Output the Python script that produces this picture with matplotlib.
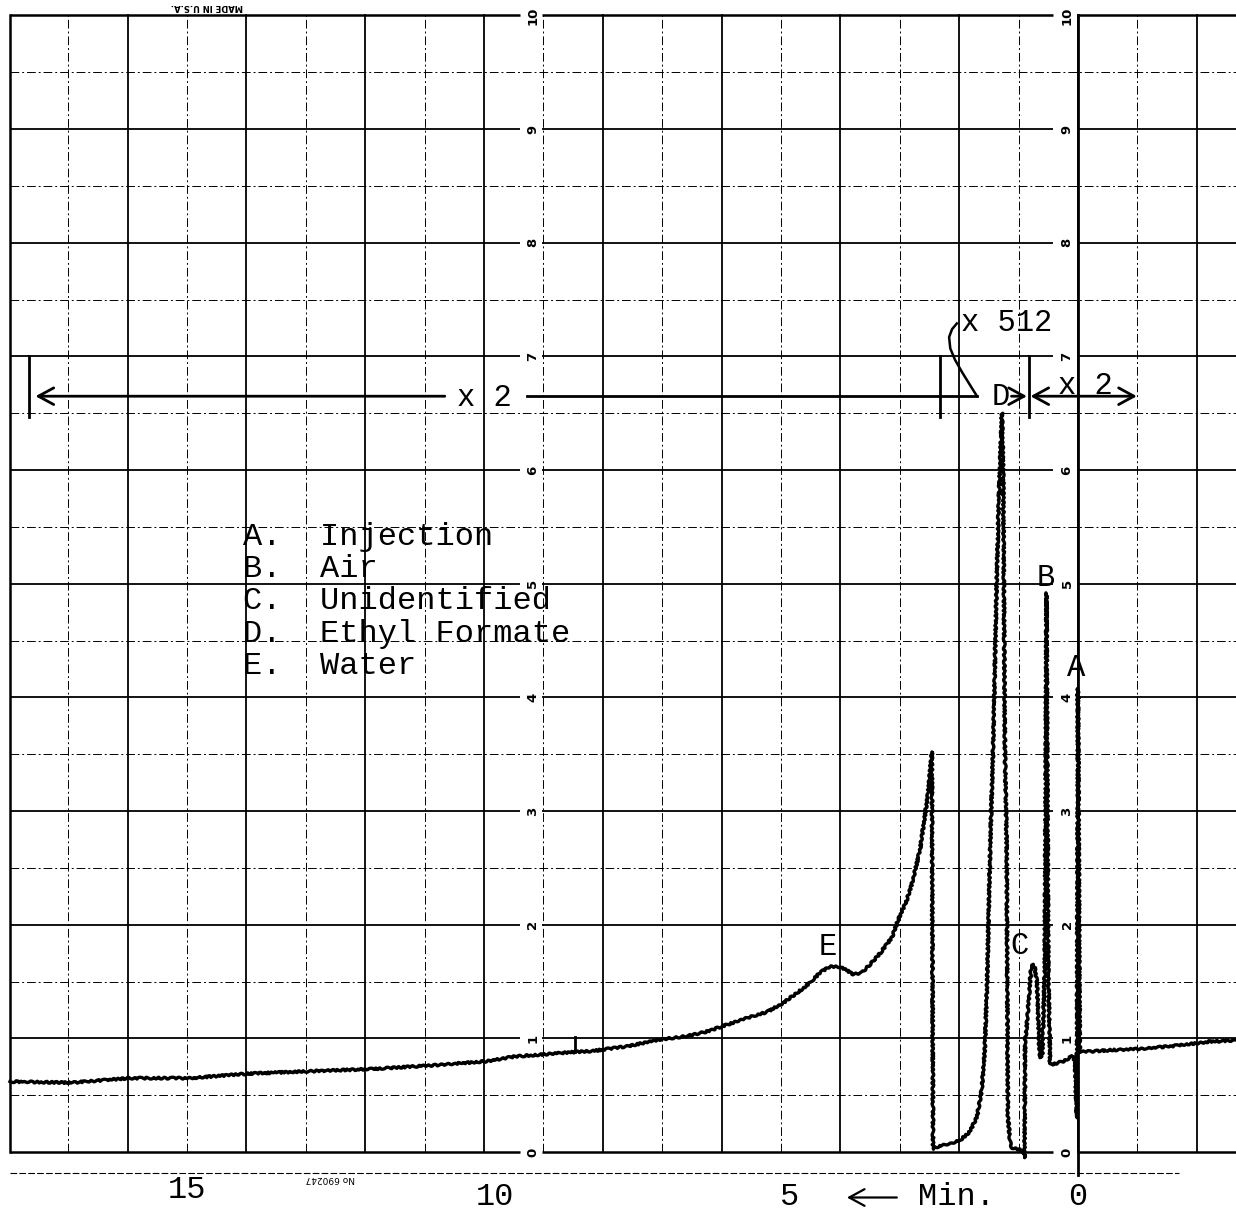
import numpy as np
import matplotlib
matplotlib.use("Agg")
from matplotlib import pyplot as plt

# recorder trace: time in min (increases to the left), pen response
t_after = [-2.66, -2.40, -2.20, -2.05, -1.80, -1.55, -1.35, -1.21, -0.95, -0.71, -0.50, -0.37, -0.20, -0.03]
v_after = [0.985, 0.975, 0.972, 0.96, 0.945, 0.93, 0.922, 0.915, 0.905, 0.90, 0.895, 0.89, 0.885, 0.88]

# A injection, B air, C unidentified
t_abc = [0.00, 0.02, 0.05, 0.10, 0.19, 0.30, 0.36, 0.47, 0.50, 0.53, 0.56, 0.60, 0.64,
         0.66, 0.69, 0.73, 0.76, 0.79, 0.81, 0.84, 0.88, 0.89]
v_abc = [4.08, 0.30, 0.80, 0.85, 0.81, 0.79, 0.78, 0.77, 1.60, 4.92, 1.60, 0.86, 0.83,
         1.01, 1.49, 1.62, 1.65, 1.60, 1.49, 1.25, 1.01, 1.00]

# D ethyl formate (x 512)
t_d = [0.90, 0.93, 0.98, 1.11, 1.14, 1.18, 1.20, 1.23, 1.26, 1.28, 1.33, 1.37, 1.43,
       1.48, 1.53, 1.57, 1.62, 1.70, 1.82, 1.99, 2.21, 2.41, 2.44]
v_d = [-0.05, 0.01, 0.02, 0.035, 0.08, 0.31, 2.66, 3.54, 6.03, 6.50, 5.80, 5.00, 3.54,
       2.66, 1.49, 0.90, 0.55, 0.31, 0.18, 0.10, 0.07, 0.04, 0.03]

# E water, back at x 2
t_e = [2.46, 2.53, 2.58, 2.66, 2.78, 2.88, 3.03, 3.13, 3.33, 3.50, 3.64, 3.79, 3.89, 4.01,
       4.18, 4.34, 4.51, 4.73, 4.97, 5.24, 5.57, 5.91, 6.25, 6.58, 7.04, 7.59, 8.16, 8.47, 8.72]
v_e = [3.52, 3.13, 2.95, 2.66, 2.39, 2.22, 2.04, 1.89, 1.75, 1.65, 1.58, 1.56, 1.60, 1.63,
       1.63, 1.58, 1.49, 1.40, 1.31, 1.23, 1.18, 1.12, 1.06, 1.02, 0.99, 0.93, 0.89, 0.88, 0.87]

t_before = [9.49, 9.93, 10.93, 11.92, 12.96, 13.96, 14.95, 15.96, 16.95, 17.98]
v_before = [0.84, 0.80, 0.76, 0.73, 0.71, 0.69, 0.65, 0.65, 0.61, 0.62]

event_t = 8.47
event_v = [0.88, 1.01]

legend_keys = ["A.", "B.", "C.", "D.", "E."]
legend_names = ["Injection", "Air", "Unidentified", "Ethyl Formate", "Water"]

peak_labels = ["A", "B", "C", "D", "E"]
peak_t = [0.03, 0.54, 0.98, 1.30, 4.21]
peak_v = [4.26, 5.05, 1.81, 6.64, 1.80]

time_labels = ["15", "10", "5", "0"]
time_ticks = [15.0, 9.81, 4.85, 0.0]
chart_numbers = [str(i) for i in range(11)]

TYPE = "Liberation Mono"
LEFT, RIGHT = 17.98, -2.66

fig = plt.figure(figsize=(12.36, 12.15), dpi=100)
ax = fig.add_axes([0, 0, 1, 1])
ax.set_xlim(18.148, -2.660)
ax.set_ylim(-0.554, 10.136)
ax.axis("off")

# chart paper grid
dash = (0, (9, 3, 2, 3))
for v in np.arange(0.5, 10, 1):
    ax.plot([LEFT, RIGHT], [v, v], color="k", lw=0.7, ls=dash)
seg_start = [LEFT, 9.02, 0.02]
seg_end = [9.39, 0.42, RIGHT]
for v in range(11):
    w = 1.8 if v in (0, 10) else 1.3
    ax.hlines([v] * 3, seg_start, seg_end, color="k", lw=w)
for t in range(-1, 18, 2):
    ax.plot([t, t], [0, 10], color="k", lw=0.7, ls=dash)
for t in range(-2, 17, 2):
    ax.plot([t, t], [0, 10], color="k", lw=1.3)
ax.plot([0, 0], [-0.2, 10], color="k", lw=2.0)
ax.plot([LEFT, LEFT], [0, 10], color="k", lw=1.8)
ax.plot([LEFT, -1.7], [-0.185, -0.185], color="k", lw=0.8, ls=(0, (6, 2)))

for col in (0.185, 9.18):
    for i, s in enumerate(chart_numbers):
        ax.text(col, i, s, rotation=90, ha="center", va="center",
                fontsize=9.5, fontweight="bold", family="DejaVu Sans")

ax.text(14.66, 10.075, "MADE IN U.S.A.", rotation=180, ha="center", va="center",
        fontsize=6, fontweight="bold")
ax.text(12.58, -0.23, "No 690247", rotation=180, ha="center", va="center", fontsize=6.5)

# trace
t_all = t_after + t_abc + t_d + t_e + t_before
v_all = v_after + v_abc + v_d + v_e + v_before
trace, = ax.plot(t_all, v_all, color="k", lw=2.4, solid_joinstyle="round")
trace.set_sketch_params(scale=0.9, length=6, randomness=3)
ax.plot([event_t, event_t], event_v, color="k", lw=2.0)

# attenuation marks
arrow_v = 6.65
hk = dict(arrowstyle="->,head_length=0.55,head_width=0.3", lw=2, color="k",
          shrinkA=0, shrinkB=0, mutation_scale=20)
for tb in (17.66, 2.33, 0.83):
    ax.plot([tb, tb], [6.47, 7.0], color="k", lw=2)
ax.annotate("", xy=(17.55, arrow_v), xytext=(10.66, arrow_v), arrowprops=hk)
ax.plot([9.28, 1.70], [arrow_v, arrow_v], color="k", lw=2)
ax.text(10.0, 6.56, "x 2", ha="center", va="baseline", fontsize=22, family=TYPE)
hook_t = [1.70, 1.82, 1.95, 2.07, 2.15, 2.17, 2.12, 2.04]
hook_v = [6.65, 6.75, 6.86, 6.97, 7.07, 7.17, 7.24, 7.29]
ax.plot(hook_t, hook_v, color="k", lw=1.8)
ax.text(1.97, 7.29, "x 512", ha="left", va="center", fontsize=22, family=TYPE)
ax.annotate("", xy=(0.86, arrow_v), xytext=(1.12, arrow_v), arrowprops=hk)
ax.annotate("", xy=(-0.99, arrow_v), xytext=(0.80, arrow_v),
            arrowprops=dict(hk, arrowstyle="<->,head_length=0.55,head_width=0.3"))
ax.text(-0.12, 6.67, "x 2", ha="center", va="baseline", fontsize=22, family=TYPE)

for s, t, v in zip(peak_labels, peak_t, peak_v):
    ax.text(t, v, s, ha="center", va="center", fontsize=22, family=TYPE)

# legend typed on the chart
for i, (k, n) in enumerate(zip(legend_keys, legend_names)):
    ax.text(14.06, 5.41 - 0.283 * i, k + "  " + n, ha="left", va="center",
            fontsize=23, family=TYPE)

# time axis
for s, t in zip(time_labels, time_ticks):
    yy = -0.33 if s == "15" else -0.40
    ax.text(t, yy, s, ha="center", va="center", fontsize=23, family=TYPE)
ax.annotate("", xy=(3.89, -0.40), xytext=(3.05, -0.40),
            arrowprops=dict(hk, lw=1.6))
ax.text(2.04, -0.40, "Min.", ha="center", va="center", fontsize=23, family=TYPE)

fig.savefig("out.png", dpi=100, facecolor="white")
